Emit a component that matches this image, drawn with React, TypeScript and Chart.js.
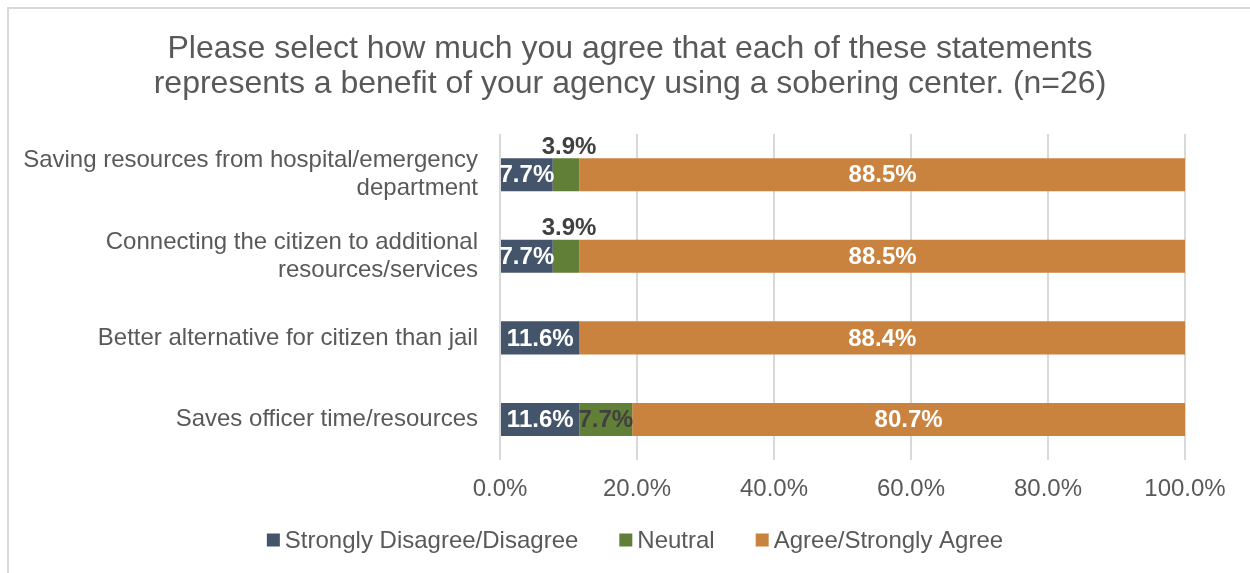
import React, { useEffect, useRef } from "react";
import { Chart, registerables } from "chart.js";

Chart.register(...registerables);

const titleLines = [
  "Please select how much you agree that each of these statements",
  "represents a benefit of your agency using a sobering center. (n=26)",
];
const categories = [
  ["Saving resources from hospital/emergency", "department"],
  ["Connecting the citizen to additional", "resources/services"],
  ["Better alternative for citizen than jail"],
  ["Saves officer time/resources"],
];
const seriesNames = ["Strongly Disagree/Disagree", "Neutral", "Agree/Strongly Agree"];
const disagreeValues = [7.7, 7.7, 11.6, 11.6];
const neutralValues = [3.9, 3.9, 0, 7.7];
const agreeValues = [88.5, 88.5, 88.4, 80.7];
const xTickValues = [0, 20, 40, 60, 80, 100];

const FONT = '"Liberation Sans", Arial, sans-serif';
const TEXT = "#595959";
const DARK = "#404040";
const COLORS = ["#44546A", "#617F36", "#C9833F"];
const LABEL_COLORS = ["#FFFFFF", DARK, "#FFFFFF"];

const decorPlugin = {
  id: "decor",
  beforeDraw(chart: any) {
    const ctx = chart.ctx;
    ctx.save();
    ctx.fillStyle = "#FFFFFF";
    ctx.fillRect(0, 0, chart.width, chart.height);
    ctx.fillStyle = "#D9D9D9";
    ctx.fillRect(7, 7, chart.width - 7, 2);
    ctx.fillRect(7, 7, 2, chart.height - 7);
    ctx.fillStyle = TEXT;
    ctx.font = `32px ${FONT}`;
    ctx.textAlign = "center";
    ctx.textBaseline = "middle";
    titleLines.forEach((line, i) => ctx.fillText(line, 630, 49 + i * 35));
    ctx.restore();
  },
  afterDatasetsDraw(chart: any) {
    const ctx = chart.ctx;
    ctx.save();
    ctx.font = `bold 24px ${FONT}`;
    ctx.textAlign = "center";
    ctx.textBaseline = "middle";
    chart.data.datasets.forEach((ds: any, di: number) => {
      const meta = chart.getDatasetMeta(di);
      meta.data.forEach((el: any, i: number) => {
        const v = ds.data[i];
        if (!v) return;
        const { x, base, y, height } = el.getProps(["x", "base", "y", "height"], true);
        const cx = (x + base) / 2;
        const txt = v.toFixed(1) + "%";
        if (v < 5) {
          ctx.fillStyle = DARK;
          ctx.fillText(txt, cx + 3, y - height / 2 - 11);
        } else {
          ctx.fillStyle = LABEL_COLORS[di];
          ctx.fillText(txt, cx, y + 1);
        }
      });
    });
    ctx.restore();
  },
  afterDraw(chart: any) {
    const ctx = chart.ctx;
    ctx.save();
    ctx.font = `24px ${FONT}`;
    ctx.textBaseline = "middle";
    ctx.textAlign = "left";
    const box = 13;
    const gapText = 5;
    const gapItem = 41;
    const items = chart.data.datasets.map((ds: any) => ({
      label: ds.label,
      color: ds.backgroundColor,
      w: box + gapText + ctx.measureText(ds.label).width,
    }));
    const total = items.reduce((s: number, it: any) => s + it.w, 0) + gapItem * (items.length - 1);
    let x = 635 - total / 2;
    const yc = 540;
    items.forEach((it: any) => {
      ctx.fillStyle = it.color;
      ctx.fillRect(x, yc - box / 2, box, box);
      ctx.fillStyle = TEXT;
      ctx.fillText(it.label, x + box + gapText, yc + 1);
      x += it.w + gapItem;
    });
    ctx.restore();
  },
};

export default function App() {
  const ref = useRef<HTMLCanvasElement | null>(null);
  useEffect(() => {
    if (!ref.current) return;
    const chart = new Chart(ref.current, {
      type: "bar",
      data: {
        labels: categories as any,
        datasets: [disagreeValues, neutralValues, agreeValues].map((d, i) => ({
          label: seriesNames[i],
          data: d,
          backgroundColor: COLORS[i],
          borderWidth: 0,
          barPercentage: 0.405,
          categoryPercentage: 1,
        })),
      },
      options: {
        indexAxis: "y",
        animation: false,
        responsive: false,
        maintainAspectRatio: false,
        layout: { padding: { top: 134, right: 65, bottom: 54, left: 0 } },
        plugins: {
          legend: { display: false },
          title: { display: false },
          tooltip: { enabled: false },
        },
        scales: {
          x: {
            stacked: true,
            min: 0,
            max: 100,
            afterBuildTicks: (scale: any) => {
              scale.ticks = xTickValues.map((v) => ({ value: v }));
            },
            ticks: {
              callback: (v: any) => Number(v).toFixed(1) + "%",
              color: TEXT,
              font: { family: FONT, size: 24 },
              padding: 15,
              maxRotation: 0,
            },
            grid: { color: "#D9D9D9", lineWidth: 2, drawTicks: false },
            border: { display: false },
          },
          y: {
            stacked: true,
            afterFit: (scale: any) => {
              scale.width = 500;
            },
            ticks: {
              color: TEXT,
              font: { family: FONT, size: 24, lineHeight: 1.17 },
              padding: 22,
            },
            grid: { display: false, drawTicks: false },
            border: { display: false },
          },
        },
      },
      plugins: [decorPlugin],
    });
    return () => chart.destroy();
  }, []);
  return (
    <div style={{ position: "absolute", left: 0, top: 0, width: 1250, height: 573, background: "#fff" }}>
      <canvas ref={ref} width={1250} height={573} style={{ display: "block" }} />
    </div>
  );
}
